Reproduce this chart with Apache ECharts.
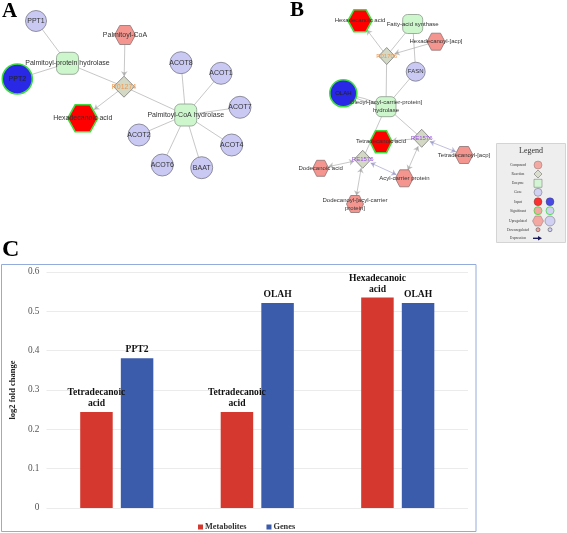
<!DOCTYPE html>
<html><head><meta charset="utf-8">
<script src="https://cdn.jsdelivr.net/npm/echarts@6/dist/echarts.min.js"></script>
<style>html,body{margin:0;padding:0;background:#fff}#c{width:567px;height:533px}</style>
</head><body><div id="c"></div><script>
// ---------- Panel C data ----------
const groups = ['Tetradecanoic acid / PPT2', 'Tetradecanoic acid / OLAH', 'Hexadecanoic acid / OLAH'];
const metaboliteLabels = ['Tetradecanoic\nacid', 'Tetradecanoic\nacid', 'Hexadecanoic\nacid'];
const geneLabels = ['PPT2', 'OLAH', 'OLAH'];
const metaboliteValues = [0.244, 0.244, 0.535];
const geneValues = [0.381, 0.521, 0.521];
const seriesNames = ['Metabolites', 'Genes'];
const yAxisTitle = 'log2 fold change';

// ---------- Network A data ----------
const netANames = ['PPT1', 'Palmitoyl-protein hydrolase', 'PPT2', 'Palmitoyl-CoA', 'R01274', 'Hexadecanoic acid',
  'Palmitoyl-CoA hydrolase', 'ACOT8', 'ACOT1', 'ACOT7', 'ACOT4', 'BAAT', 'ACOT6', 'ACOT2'];
const netATypes = ['gene', 'enzyme', 'geneInput', 'compound', 'reaction', 'compoundInput',
  'enzyme', 'gene', 'gene', 'gene', 'gene', 'gene', 'gene', 'gene'];
const netALinks = [
  ['PPT1', 'Palmitoyl-protein hydrolase', 0], ['PPT2', 'Palmitoyl-protein hydrolase', 0],
  ['Palmitoyl-protein hydrolase', 'R01274', 0], ['Palmitoyl-CoA', 'R01274', 1],
  ['R01274', 'Hexadecanoic acid', 1], ['R01274', 'Palmitoyl-CoA hydrolase', 0],
  ['Palmitoyl-CoA hydrolase', 'ACOT8', 0], ['Palmitoyl-CoA hydrolase', 'ACOT1', 0],
  ['Palmitoyl-CoA hydrolase', 'ACOT7', 0], ['Palmitoyl-CoA hydrolase', 'ACOT4', 0],
  ['Palmitoyl-CoA hydrolase', 'BAAT', 0], ['Palmitoyl-CoA hydrolase', 'ACOT6', 0],
  ['Palmitoyl-CoA hydrolase', 'ACOT2', 0]
];

// ---------- Network B data ----------
const netBNames = ['Hexadecanoic acid', 'Fatty-acid synthase', 'Hexadecanoyl-[acp]', 'R01706', 'FASN', 'OLAH',
  'Oleoyl-[acyl-carrier-protein] hydrolase', 'Tetradecanoic acid', 'RE1576', 'Tetradecanoyl-[acp]', 'RE1575',
  'Dodecanoic acid', 'Acyl-carrier protein', 'Dodecanoyl-[acyl-carrier protein]'];
const netBLabels = ['Hexadecanoic acid', 'Fatty-acid synthase', 'Hexadecanoyl-[acp]', 'R01706', 'FASN', 'OLAH',
  'Oleoyl-[acyl-carrier-protein]\nhydrolase', 'Tetradecanoic acid', 'RE1576', 'Tetradecanoyl-[acp]', 'RE1575',
  'Dodecanoic acid', 'Acyl-carrier protein', 'Dodecanoyl-[acyl-carrier\nprotein]'];
const netBTypes = ['compoundInput', 'enzyme', 'compound', 'reaction', 'gene', 'geneInput',
  'enzyme', 'compoundInput', 'reaction2', 'compound', 'reaction2',
  'compound', 'compound', 'compound'];
const netBLinks = [
  ['R01706', 'Hexadecanoic acid', 1], ['Fatty-acid synthase', 'R01706', 0],
  ['Hexadecanoyl-[acp]', 'R01706', 1], ['FASN', 'Fatty-acid synthase', 0],
  ['R01706', 'Oleoyl-[acyl-carrier-protein] hydrolase', 0], ['FASN', 'Oleoyl-[acyl-carrier-protein] hydrolase', 0],
  ['OLAH', 'Oleoyl-[acyl-carrier-protein] hydrolase', 0], ['OLAH', 'Oleoyl-[acyl-carrier-protein] hydrolase', 0],
  ['Oleoyl-[acyl-carrier-protein] hydrolase', 'RE1575', 0], ['Oleoyl-[acyl-carrier-protein] hydrolase', 'RE1576', 0],
  ['RE1576', 'Tetradecanoic acid', 1], ['RE1576', 'Tetradecanoyl-[acp]', 2],
  ['RE1576', 'Acyl-carrier protein', 2], ['RE1575', 'Dodecanoic acid', 2],
  ['RE1575', 'Acyl-carrier protein', 2], ['RE1575', 'Dodecanoyl-[acyl-carrier protein]', 2]
];

// ---------- Legend (network) texts ----------
const netLegendTitle = 'Legend';
const netLegendRows = ['Compound', 'Reaction', 'Enzyme', 'Gene', 'Input', 'Significant', 'Upregulated', 'Downregulated', 'Expression'];

// ---------- Layout (positions / sizes, pixels) ----------
const layoutA = {
  'PPT1': [36, 21, 21, 21], 'Palmitoyl-protein hydrolase': [67.5, 63.3, 22, 22], 'PPT2': [17.3, 79, 30, 30],
  'Palmitoyl-CoA': [125, 35, 21, 19], 'R01274': [124, 86.7, 21, 21], 'Hexadecanoic acid': [82.7, 118.3, 30, 27],
  'Palmitoyl-CoA hydrolase': [185.7, 115, 22, 22], 'ACOT8': [181, 62.7, 22, 22], 'ACOT1': [221, 73.3, 22, 22],
  'ACOT7': [240, 107.3, 22, 22], 'ACOT4': [231.7, 145, 22, 22], 'BAAT': [201.7, 167.7, 22, 22],
  'ACOT6': [162.3, 165, 22, 22], 'ACOT2': [139, 135, 22, 22]
};
const layoutB = {
  'Hexadecanoic acid': [360, 20.7, 24, 22], 'Fatty-acid synthase': [412.7, 24, 20, 19],
  'Hexadecanoyl-[acp]': [436, 41.7, 18, 17], 'R01706': [386.7, 56, 16, 17], 'FASN': [415.7, 71.7, 19, 19],
  'OLAH': [343.3, 93.3, 27, 27], 'Oleoyl-[acyl-carrier-protein] hydrolase': [386, 106.7, 20, 20],
  'Tetradecanoic acid': [381, 141.7, 22, 22], 'RE1576': [421.7, 138.3, 17, 18], 'Tetradecanoyl-[acp]': [464, 155, 18, 17],
  'RE1575': [362.7, 159.3, 17, 18], 'Dodecanoic acid': [320.7, 168.3, 16, 16], 'Acyl-carrier protein': [404.3, 178.3, 18, 17],
  'Dodecanoyl-[acyl-carrier protein]': [355, 204, 17, 17]
};

const hexPath = 'path://M0,43.3 L25,0 L75,0 L100,43.3 L75,86.6 L25,86.6 Z';
const typeStyles = {
  gene: { symbol: 'circle', itemStyle: { color: '#c9c9f4', borderColor: '#7a7a88', borderWidth: 0.8 }, lc: '#333' },
  geneInput: { symbol: 'circle', itemStyle: { color: '#2828e6', borderColor: '#3fdc3f', borderWidth: 1.6 }, lc: '#222' },
  enzyme: { symbol: 'roundRect', itemStyle: { color: '#cdf6cd', borderColor: '#8a9a8a', borderWidth: 0.8 }, lc: '#333' },
  reaction: { symbol: 'diamond', itemStyle: { color: '#d4d9c6', borderColor: '#7a7a7a', borderWidth: 0.8 }, lc: '#f0964c' },
  reaction2: { symbol: 'diamond', itemStyle: { color: '#d4d9c6', borderColor: '#7a7a7a', borderWidth: 0.8 }, lc: '#9a4ee6' },
  compound: { symbol: hexPath, itemStyle: { color: '#f4968f', borderColor: '#8a7474', borderWidth: 0.8 }, lc: '#333' },
  compoundInput: { symbol: hexPath, itemStyle: { color: '#ff0000', borderColor: '#3fdc3f', borderWidth: 1.6 }, lc: '#333' }
};

function buildNodes(names, labels, types, layout, fs) {
  return names.map((n, i) => {
    const L = layout[n], st = typeStyles[types[i]];
    return {
      name: n, value: [L[0], L[1]], symbol: st.symbol, symbolSize: [L[2], L[3]],
      itemStyle: st.itemStyle,
      label: { show: true, position: 'inside', formatter: labels[i], color: st.lc, fontSize: fs,
        fontFamily: 'Liberation Sans', lineHeight: fs + 2 }
    };
  });
}
function buildLinks(links, blueSet) {
  const seen = {};
  return links.map(l => {
    const key = l[0] + '|' + l[1];
    seen[key] = (seen[key] || 0) + 1;
    const dup = links.filter(x => x[0] === l[0] && x[1] === l[1]).length > 1;
    const sym = l[2] === 1 ? ['none', 'arrow'] : l[2] === 2 ? ['arrow', 'arrow'] : ['none', 'none'];
    return {
      source: l[0], target: l[1], symbol: sym, symbolSize: [5, 5],
      lineStyle: { color: blueSet && blueSet.has(key) ? '#7474b4' : '#838383', width: 0.9,
        curveness: dup ? (seen[key] === 1 ? 0.06 : -0.06) : 0 }
    };
  });
}

const nodesA = buildNodes(netANames, netANames, netATypes, layoutA, 7);
const nodesB = buildNodes(netBNames, netBLabels, netBTypes, layoutB, 6);
const linksA = buildLinks(netALinks);
const linksB = buildLinks(netBLinks, new Set(['RE1576|Tetradecanoyl-[acp]', 'RE1575|Acyl-carrier protein']));

// legend symbols of network legend
const lgY = [165, 174, 183.3, 192.3, 201.7, 210.7, 221, 229.7, 238.3];
const lgX1 = 538, lgX2 = 550;
const legendSymbols = [
  { value: [lgX1, lgY[0]], symbol: 'circle', symbolSize: 8, itemStyle: { color: '#f4968f', borderColor: '#8a7474', borderWidth: 0.6 } },
  { value: [lgX1, lgY[1]], symbol: 'diamond', symbolSize: 8, itemStyle: { color: '#d4d9c6', borderColor: '#555', borderWidth: 0.6 } },
  { value: [lgX1, lgY[2]], symbol: 'rect', symbolSize: 8, itemStyle: { color: '#cdf6cd', borderColor: '#666', borderWidth: 0.6 } },
  { value: [lgX1, lgY[3]], symbol: 'circle', symbolSize: 8, itemStyle: { color: '#c9c9f4', borderColor: '#666', borderWidth: 0.6 } },
  { value: [lgX1, lgY[4]], symbol: 'circle', symbolSize: 8, itemStyle: { color: '#ff0000', borderColor: '#333', borderWidth: 0.4 } },
  { value: [lgX2, lgY[4]], symbol: 'circle', symbolSize: 8, itemStyle: { color: '#2020e0', borderColor: '#333', borderWidth: 0.4 } },
  { value: [lgX1, lgY[5]], symbol: 'circle', symbolSize: 8, itemStyle: { color: '#f4968f', borderColor: '#3fdc3f', borderWidth: 1 } },
  { value: [lgX2, lgY[5]], symbol: 'circle', symbolSize: 8, itemStyle: { color: '#c9c9f4', borderColor: '#3fdc3f', borderWidth: 1 } },
  { value: [lgX1, lgY[6]], symbol: hexPath, symbolSize: [11, 10], itemStyle: { color: '#f4968f', borderColor: '#8a7474', borderWidth: 0.6 } },
  { value: [lgX2, lgY[6]], symbol: 'circle', symbolSize: 10, itemStyle: { color: '#c9c9f4', borderColor: '#666', borderWidth: 0.6 } },
  { value: [lgX1, lgY[7]], symbol: 'circle', symbolSize: 4, itemStyle: { color: '#f4968f', borderColor: '#333', borderWidth: 0.6 } },
  { value: [lgX2, lgY[7]], symbol: 'circle', symbolSize: 4, itemStyle: { color: '#c9c9f4', borderColor: '#333', borderWidth: 0.6 } }
];

const serif = 'Liberation Serif';
const graphic = [
  { type: 'text', left: 2, top: 1, style: { text: 'A', font: 'bold 21px "Liberation Serif"', fill: '#000' } },
  { type: 'text', left: 290, top: 0, style: { text: 'B', font: 'bold 21px "Liberation Serif"', fill: '#000' } },
  { type: 'text', left: 2, top: 238, style: { text: 'C', font: 'bold 24px "Liberation Serif"', fill: '#000' } },
  { type: 'rect', z: -5, shape: { x: 1.5, y: 264.5, width: 474.5, height: 267 }, style: { fill: 'none', stroke: '#93acdb', lineWidth: 1 } },
  { type: 'rect', z: -5, shape: { x: 496.5, y: 143.5, width: 69, height: 99 }, style: { fill: '#eeeeee', stroke: '#d4d4d4', lineWidth: 1 } },
  { type: 'text', z: 5, x: 531, y: 151, style: { text: netLegendTitle, font: '8px "Liberation Serif"', fill: '#333', align: 'center', verticalAlign: 'middle' } }
].concat(netLegendRows.map((t, i) => ({ type: 'text', z: 5, x: 518, y: lgY[i], style: { text: t, font: '3.6px "Liberation Serif"', fill: '#333', align: 'center', verticalAlign: 'middle' } })))
 .concat([
  { type: 'line', z: 5, shape: { x1: 533, y1: lgY[8], x2: 539, y2: lgY[8] }, style: { stroke: '#1a1a5a', lineWidth: 1.4 } },
  { type: 'polygon', z: 5, shape: { points: [[538, lgY[8] - 2.2], [542, lgY[8]], [538, lgY[8] + 2.2]] }, style: { fill: '#1a1a5a' } }
 ]);

const chart = echarts.init(document.getElementById('c'), null, { renderer: 'canvas' });
chart.setOption({
  animation: false,
  graphic: graphic,
  grid: [
    { left: 38.5, right: 99, top: 272, bottom: 25, containLabel: false },
    { left: 0, right: 0, top: 0, bottom: 0 }
  ],
  legend: {
    data: seriesNames, left: 193, top: 518, itemWidth: 5, itemHeight: 5, itemGap: 20,
    icon: 'rect', textStyle: { fontFamily: serif, fontWeight: 'bold', fontSize: 8.3, color: '#333', padding: [0, 0, 0, -3] }
  },
  xAxis: [
    { type: 'category', gridIndex: 0, data: groups, axisLine: { show: false }, axisTick: { show: false }, axisLabel: { show: false } },
    { type: 'value', gridIndex: 1, min: 0, max: 567, show: false }
  ],
  yAxis: [
    { type: 'value', gridIndex: 0, min: 0, max: 0.6, interval: 0.1,
      name: yAxisTitle, nameLocation: 'middle', nameRotate: 90, nameGap: 21,
      nameTextStyle: { fontFamily: serif, fontWeight: 'bold', fontSize: 8.5, color: '#222' },
      axisLine: { show: false }, axisTick: { show: false },
      axisLabel: { fontFamily: serif, fontSize: 9.3, color: '#555', margin: 7 },
      splitLine: { lineStyle: { color: '#ebebeb', width: 1 } } },
    { type: 'value', gridIndex: 1, min: 0, max: 533, inverse: true, show: false }
  ],
  series: [
    { name: seriesNames[0], type: 'bar', xAxisIndex: 0, yAxisIndex: 0, data: metaboliteValues, barWidth: 32.5, barGap: '25%',
      itemStyle: { color: '#d5382f' },
      label: { show: true, position: 'top', distance: 3, formatter: p => metaboliteLabels[p.dataIndex],
        fontFamily: serif, fontWeight: 'bold', fontSize: 9.6, lineHeight: 11, color: '#111' } },
    { name: seriesNames[1], type: 'bar', xAxisIndex: 0, yAxisIndex: 0, data: geneValues, barWidth: 32.5,
      itemStyle: { color: '#3b5bab' },
      label: { show: true, position: 'top', distance: 3, formatter: p => geneLabels[p.dataIndex],
        fontFamily: serif, fontWeight: 'bold', fontSize: 9.6, lineHeight: 11, color: '#111' } },
    { type: 'graph', coordinateSystem: 'cartesian2d', xAxisIndex: 1, yAxisIndex: 1, silent: true,
      data: nodesA, links: linksA, edgeSymbol: ['none', 'none'], z: 3 },
    { type: 'graph', coordinateSystem: 'cartesian2d', xAxisIndex: 1, yAxisIndex: 1, silent: true,
      data: nodesB, links: linksB, edgeSymbol: ['none', 'none'], z: 3 },
    { type: 'scatter', xAxisIndex: 1, yAxisIndex: 1, silent: true, data: legendSymbols, z: 4 }
  ]
});
</script></body></html>
